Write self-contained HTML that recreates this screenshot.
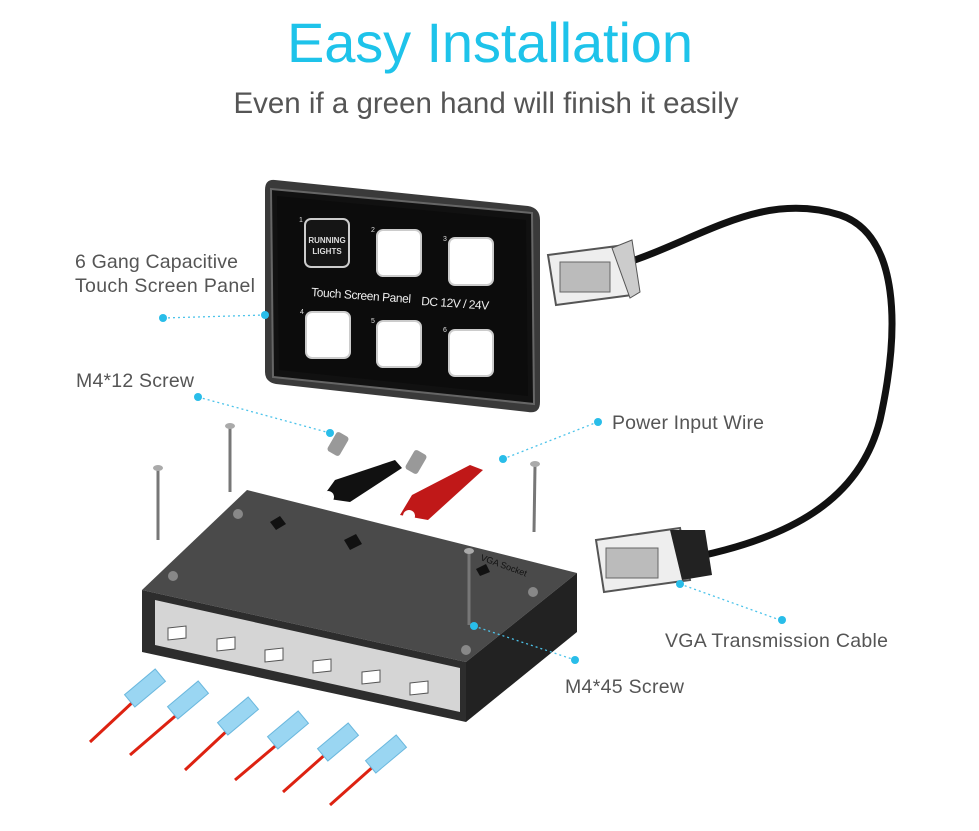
<!DOCTYPE html>
<html><head><meta charset="utf-8"><style>
body{margin:0;background:#fff;width:979px;height:831px;overflow:hidden;font-family:"Liberation Sans",Arial,sans-serif}
svg{position:absolute;left:0;top:0}
</style></head><body>
<svg width="979" height="831" viewBox="0 0 979 831" xmlns="http://www.w3.org/2000/svg" font-family="Liberation Sans, Arial, sans-serif">
<text x="490" y="62" text-anchor="middle" font-size="56" fill="#1ec3ea" textLength="406">Easy Installation</text>
<text x="486" y="113" text-anchor="middle" font-size="29.5" fill="#555">Even if a green hand will finish it easily</text>

<!-- cable -->
<path d="M620 265 C700 240 760 190 840 215 C900 235 900 330 880 420 C860 500 790 540 680 560" fill="none" stroke="#111" stroke-width="7"/>
<g>
<polygon points="548,255 625,245 632,295 556,305" fill="#eee" stroke="#555" stroke-width="2"/>
<rect x="560" y="262" width="50" height="30" fill="#bbb" stroke="#666"/>
<polygon points="612,248 632,240 640,292 630,298" fill="#ccc" stroke="#555"/>
<polygon points="596,540 680,528 690,580 604,592" fill="#eee" stroke="#555" stroke-width="2"/>
<rect x="606" y="548" width="52" height="30" fill="#bbb" stroke="#666"/>
<polygon points="670,530 705,530 712,575 682,580" fill="#222"/>
</g>

<!-- panel -->
<path d="M275,180 L528,206 Q540,208 540,220 L540,402 Q540,414 528,412 L276,384 Q265,382 265,372 L265,190 Q265,179 275,180 Z" fill="#3a3a3a"/>
<polygon points="271,189 532,213 534,404 273,377" fill="#111" stroke="#666" stroke-width="2"/>
<polygon points="277,196 526,220 528,396 279,370" fill="#0c0c0c"/>
<g stroke="#ccc" stroke-width="2">
<rect x="305" y="219" width="44" height="48" rx="6" fill="#151515"/>
<rect x="377" y="230" width="44" height="46" rx="6" fill="#fff"/>
<rect x="449" y="238" width="44" height="47" rx="6" fill="#fff"/>
<rect x="306" y="312" width="44" height="46" rx="6" fill="#fff"/>
<rect x="377" y="321" width="44" height="46" rx="6" fill="#fff"/>
<rect x="449" y="330" width="44" height="46" rx="6" fill="#fff"/>
</g>
<text x="327" y="243" text-anchor="middle" font-size="8" fill="#ddd" font-weight="bold">RUNNING</text>
<text x="327" y="254" text-anchor="middle" font-size="8" fill="#ddd" font-weight="bold">LIGHTS</text>
<g font-size="7" fill="#ddd"><text x="299" y="222">1</text><text x="371" y="232">2</text><text x="443" y="241">3</text><text x="300" y="314">4</text><text x="371" y="323">5</text><text x="443" y="332">6</text></g>
<text x="311" y="296" font-size="12" fill="#eee" transform="rotate(4 311 296)" textLength="100">Touch Screen Panel</text>
<text x="421" y="305" font-size="12" fill="#eee" transform="rotate(4 421 305)" textLength="68">DC 12V / 24V</text>

<!-- box -->
<polygon points="142,590 247,490 577,573 466,662" fill="#4a4a4a"/>
<polygon points="142,590 466,662 466,722 142,652" fill="#2d2d2d"/>
<polygon points="155,600 460,668 460,712 155,645" fill="#d5d5d5"/>
<polygon points="466,662 577,573 577,632 466,722" fill="#222"/>
<g fill="#fff" stroke="#555">
<polygon points="168,628 186,626 186,638 168,640"/><polygon points="217,639 235,637 235,649 217,651"/><polygon points="265,650 283,648 283,660 265,662"/><polygon points="313,661 331,659 331,671 313,673"/><polygon points="362,672 380,670 380,682 362,684"/><polygon points="410,683 428,681 428,693 410,695"/>
</g>
<g fill="#888"><circle cx="238" cy="514" r="5"/><circle cx="173" cy="576" r="5"/><circle cx="533" cy="592" r="5"/><circle cx="466" cy="650" r="5"/></g>
<g fill="#111"><polygon points="270,522 280,516 286,524 276,530"/><polygon points="344,540 356,534 362,544 350,550"/><polygon points="476,569 486,564 490,572 480,576"/></g>
<text x="480" y="560" font-size="9" fill="#111" transform="rotate(20 480 560)">VGA Socket</text>

<!-- screws -->
<g stroke="#777" stroke-width="3"><line x1="230" y1="428" x2="230" y2="492"/><line x1="158" y1="470" x2="158" y2="540"/><line x1="535" y1="466" x2="534" y2="532"/><line x1="469" y1="552" x2="469" y2="625"/></g>
<g fill="#aaa"><ellipse cx="230" cy="426" rx="5" ry="3"/><ellipse cx="158" cy="468" rx="5" ry="3"/><ellipse cx="535" cy="464" rx="5" ry="3"/><ellipse cx="469" cy="551" rx="5" ry="3"/></g>
<g fill="#999"><rect x="331" y="433" width="14" height="22" rx="3" transform="rotate(30 338 444)"/><rect x="409" y="451" width="14" height="22" rx="3" transform="rotate(30 416 462)"/></g>
<!-- terminals -->
<path d="M322 498 L335 480 L395 460 L402 468 L350 502 Z" fill="#111"/>
<path d="M400 515 L412 495 L470 465 L483 470 L428 520 Z" fill="#c01818"/>
<circle cx="328" cy="497" r="6" fill="#fff"/><circle cx="409" cy="516" r="6" fill="#fff"/>

<!-- wires -->
<g stroke="#d21" stroke-width="3">
<line x1="90" y1="742" x2="135" y2="700"/><line x1="130" y1="755" x2="180" y2="712"/><line x1="185" y1="770" x2="230" y2="728"/><line x1="235" y1="780" x2="280" y2="742"/><line x1="283" y1="792" x2="328" y2="752"/><line x1="330" y1="805" x2="375" y2="765"/>
</g>
<g fill="#9ad6f2" stroke="#6bb8de">
<rect x="125" y="680" width="40" height="16" transform="rotate(-40 145 688)"/><rect x="168" y="692" width="40" height="16" transform="rotate(-40 188 700)"/><rect x="218" y="708" width="40" height="16" transform="rotate(-40 238 716)"/><rect x="268" y="722" width="40" height="16" transform="rotate(-40 288 730)"/><rect x="318" y="734" width="40" height="16" transform="rotate(-40 338 742)"/><rect x="366" y="746" width="40" height="16" transform="rotate(-40 386 754)"/>
</g>

<!-- callouts -->
<g stroke="#4cc3ea" stroke-width="1.3" stroke-dasharray="2 3" fill="none">
<line x1="163" y1="318" x2="265" y2="315"/><line x1="198" y1="397" x2="330" y2="433"/><line x1="503" y1="459" x2="595" y2="423"/><line x1="680" y1="584" x2="780" y2="620"/><line x1="474" y1="626" x2="575" y2="660"/>
</g>
<g fill="#29bde9"><circle cx="163" cy="318" r="4"/><circle cx="265" cy="315" r="4"/><circle cx="198" cy="397" r="4"/><circle cx="330" cy="433" r="4"/><circle cx="503" cy="459" r="4"/><circle cx="598" cy="422" r="4"/><circle cx="680" cy="584" r="4"/><circle cx="782" cy="620" r="4"/><circle cx="474" cy="626" r="4"/><circle cx="575" cy="660" r="4"/></g>

<g font-size="19.5" fill="#555">
<text x="75" y="268" textLength="163">6 Gang Capacitive</text>
<text x="75" y="292" textLength="180">Touch Screen Panel</text>
<text x="76" y="387" textLength="118">M4*12 Screw</text>
<text x="612" y="429" textLength="152">Power Input Wire</text>
<text x="665" y="647" textLength="223">VGA Transmission Cable</text>
<text x="565" y="693" textLength="119">M4*45 Screw</text>
</g>
</svg>
</body></html>
